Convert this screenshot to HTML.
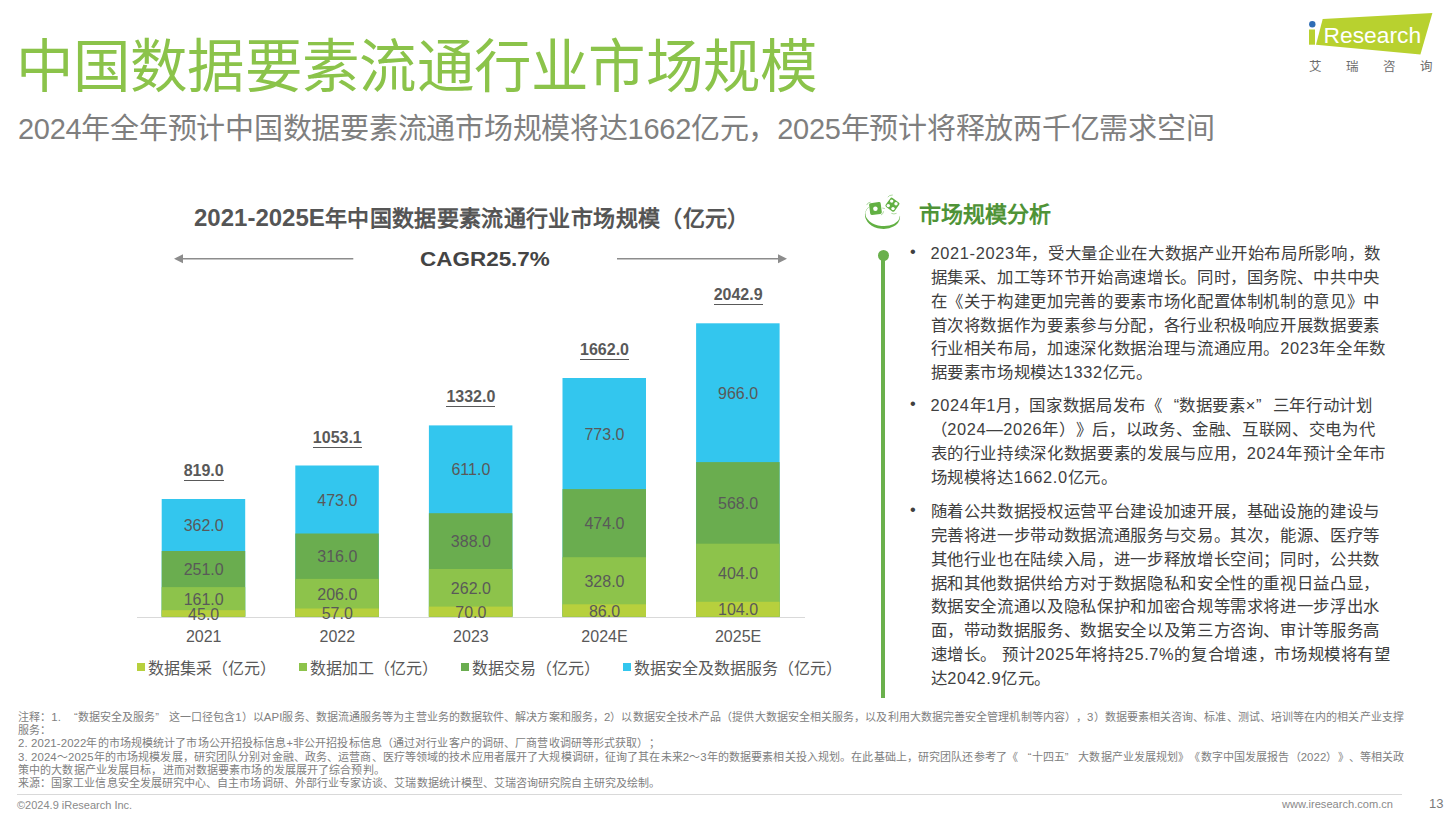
<!DOCTYPE html>
<html lang="zh-CN"><head><meta charset="utf-8">
<style>
*{margin:0;padding:0;box-sizing:border-box}
html,body{width:1448px;height:818px;overflow:hidden;background:#fff}
body{position:relative;font-family:"Liberation Sans",sans-serif;color:#404040;text-spacing-trim:space-all}
.a{position:absolute;white-space:nowrap;line-height:1}
#title{left:15.5px;top:38.5px;font-size:57.5px;letter-spacing:0.3px;color:#8bc34a}
#sub{left:18px;top:114.5px;font-size:29px;color:#7f7f7f;letter-spacing:-0.26px}
/* logo */
#logo{position:absolute;left:1300px;top:8px;width:140px;height:70px}
.lg-cn{position:absolute;top:53px;font-size:12.5px;color:#6d6d6d;line-height:1}
/* chart */
#ctitle{left:194px;top:205.5px;font-size:22px;font-weight:bold;color:#555;letter-spacing:0.37px}
#ctitle b{font-size:24px;letter-spacing:0}
#cagr{left:420px;top:250px;font-size:19.3px;font-weight:bold;color:#444;transform:scaleX(1.165);transform-origin:0 0}
.bar{position:absolute;width:84px}
.seg{position:absolute;left:0;width:84px}
.c1{background:#b7d03d}.c2{background:#8dc34b}.c3{background:#6aad4f}.c4{background:#33c6ee}
.vl{position:absolute;width:84px;text-align:center;font-size:16px;line-height:16px;color:#595959;white-space:nowrap}
.tot{position:absolute;width:84px;text-align:center;font-size:16px;font-weight:bold;line-height:16px;color:#595959}
.tot span{border-bottom:1px solid #595959;padding-bottom:1px}
.yr{position:absolute;width:84px;text-align:center;font-size:16px;line-height:16px;color:#595959;top:629px}
#axis{display:none}
.lgd{position:absolute;top:660.5px;font-size:16px;line-height:16px;color:#595959;white-space:nowrap}
.lgd i{display:inline-block;width:8px;height:8px;margin-right:3px;vertical-align:3px;margin-left:-2px}
/* right panel */
#rtitle{left:919px;top:204px;font-size:22px;font-weight:bold;color:#4f9337}
#vline{position:absolute;left:881px;top:255px;width:3.5px;height:442.5px;background:#6ab04c}
#vdot{position:absolute;left:878px;top:250px;width:11px;height:11px;border-radius:50%;background:#6ab04c}
.para{position:absolute;left:930.5px;width:470px;font-size:16.4px;letter-spacing:0.65px;line-height:23.86px;color:#404040}
.para p{white-space:nowrap}
.ql,.qr{display:inline-block;width:16.65px;text-align:right;letter-spacing:0}
.qr{text-align:left}
.bul{position:absolute;left:-20.5px;top:-2px}
/* footer */
.fn{position:absolute;left:18px;font-size:11px;line-height:13.3px;color:#808080;white-space:nowrap}
.fn .n{font-size:11.4px}
.fn .ql,.fn .qr{width:13.5px}
#hr{position:absolute;left:17px;top:794px;width:1385px;height:1px;background:#d9d9d9}
#copy{left:17px;top:799.5px;font-size:11px;color:#8a8a8a}
#www{left:1282px;top:799px;font-size:11.1px;color:#8a8a8a}
#pg{left:1429px;top:797px;font-size:13px;color:#7a7a7a}
</style></head>
<body>
<div class="a" id="title">中国数据要素流通行业市场规模</div>
<div class="a" id="sub">2024年全年预计中国数据要素流通市场规模将达1662亿元，2025年预计将释放两千亿需求空间</div>

<div id="logo">
<svg width="140" height="70" viewBox="1300 8 140 70" style="position:absolute;left:0;top:0">
  <polygon points="1322.7,19 1432.4,12.9 1420.4,54.6 1316,44.7" fill="#b8d12f"/>
  <rect x="1309" y="29.5" width="6" height="15.2" fill="#b8d12f"/>
  <circle cx="1312.3" cy="24.2" r="3.2" fill="#2f6db5"/>
  <text x="1323.5" y="42.5" font-family="Liberation Sans" font-size="22.8" fill="#fff">Research</text>
</svg>
<div class="lg-cn" style="left:9px">艾</div>
<div class="lg-cn" style="left:46px">瑞</div>
<div class="lg-cn" style="left:83px">咨</div>
<div class="lg-cn" style="left:120px">询</div>
</div>

<div class="a" id="ctitle"><b>2021-2025E</b>年中国数据要素流通行业市场规模（亿元）</div>
<svg style="position:absolute;left:0;top:0" width="1448" height="818">
  <line x1="182" y1="258.7" x2="353.3" y2="258.7" stroke="#8c8c8c" stroke-width="1.6"/>
  <polygon points="174,258.7 183,254.2 183,263.2" fill="#8c8c8c"/>
  <line x1="617" y1="258.7" x2="778" y2="258.7" stroke="#8c8c8c" stroke-width="1.6"/>
  <polygon points="787,258.7 778,254.2 778,263.2" fill="#8c8c8c"/>
</svg>
<div class="a" id="cagr">CAGR25.7%</div>

<div id="bars">
<svg style="position:absolute;left:0;top:0" width="1448" height="818"><rect x="161.7" y="499.0" width="83.5" height="117.7" fill="#33c6ee"/><rect x="161.7" y="551.0" width="83.5" height="65.7" fill="#6aad4f"/><rect x="161.7" y="587.1" width="83.5" height="29.6" fill="#8dc34b"/><rect x="161.7" y="610.2" width="83.5" height="6.5" fill="#b7d03d"/><rect x="295.3" y="465.5" width="83.5" height="151.2" fill="#33c6ee"/><rect x="295.3" y="533.5" width="83.5" height="83.2" fill="#6aad4f"/><rect x="295.3" y="578.9" width="83.5" height="37.8" fill="#8dc34b"/><rect x="295.3" y="608.5" width="83.5" height="8.2" fill="#b7d03d"/><rect x="428.9" y="425.4" width="83.5" height="191.3" fill="#33c6ee"/><rect x="428.9" y="513.2" width="83.5" height="103.5" fill="#6aad4f"/><rect x="428.9" y="569.0" width="83.5" height="47.7" fill="#8dc34b"/><rect x="428.9" y="606.6" width="83.5" height="10.1" fill="#b7d03d"/><rect x="562.5" y="378.0" width="83.5" height="238.7" fill="#33c6ee"/><rect x="562.5" y="489.1" width="83.5" height="127.6" fill="#6aad4f"/><rect x="562.5" y="557.2" width="83.5" height="59.5" fill="#8dc34b"/><rect x="562.5" y="604.3" width="83.5" height="12.4" fill="#b7d03d"/><rect x="696.1" y="323.3" width="83.5" height="293.4" fill="#33c6ee"/><rect x="696.1" y="462.1" width="83.5" height="154.6" fill="#6aad4f"/><rect x="696.1" y="543.7" width="83.5" height="73.0" fill="#8dc34b"/><rect x="696.1" y="601.8" width="83.5" height="14.9" fill="#b7d03d"/><rect x="137" y="617" width="668" height="1" fill="#d9d9d9"/></svg>
<div class="vl" style="left:161.7px;top:606.5px">45.0</div>
<div class="vl" style="left:161.7px;top:591.7px">161.0</div>
<div class="vl" style="left:161.7px;top:562.1px">251.0</div>
<div class="vl" style="left:161.7px;top:518.0px">362.0</div>
<div class="tot" style="left:161.7px;top:463.0px"><span>819.0</span></div>
<div class="yr" style="left:161.7px">2021</div>
<div class="vl" style="left:295.3px;top:605.6px">57.0</div>
<div class="vl" style="left:295.3px;top:586.7px">206.0</div>
<div class="vl" style="left:295.3px;top:549.2px">316.0</div>
<div class="vl" style="left:295.3px;top:492.5px">473.0</div>
<div class="tot" style="left:295.3px;top:429.5px"><span>1053.1</span></div>
<div class="yr" style="left:295.3px">2022</div>
<div class="vl" style="left:428.9px;top:604.7px">70.0</div>
<div class="vl" style="left:428.9px;top:580.8px">262.0</div>
<div class="vl" style="left:428.9px;top:534.1px">388.0</div>
<div class="vl" style="left:428.9px;top:462.3px">611.0</div>
<div class="tot" style="left:428.9px;top:389.4px"><span>1332.0</span></div>
<div class="yr" style="left:428.9px">2023</div>
<div class="vl" style="left:562.5px;top:603.5px">86.0</div>
<div class="vl" style="left:562.5px;top:573.8px">328.0</div>
<div class="vl" style="left:562.5px;top:516.2px">474.0</div>
<div class="vl" style="left:562.5px;top:426.6px">773.0</div>
<div class="tot" style="left:562.5px;top:342.0px"><span>1662.0</span></div>
<div class="yr" style="left:562.5px">2024E</div>
<div class="vl" style="left:696.1px;top:602.2px">104.0</div>
<div class="vl" style="left:696.1px;top:565.7px">404.0</div>
<div class="vl" style="left:696.1px;top:495.9px">568.0</div>
<div class="vl" style="left:696.1px;top:385.7px">966.0</div>
<div class="tot" style="left:696.1px;top:287.3px"><span>2042.9</span></div>
<div class="yr" style="left:696.1px">2025E</div>
</div>
<div id="axis"></div>

<div class="lgd" style="left:139px"><i class="c1"></i>数据集采（亿元）</div>
<div class="lgd" style="left:301px"><i class="c2"></i>数据加工（亿元）</div>
<div class="lgd" style="left:463px"><i class="c3"></i>数据交易（亿元）</div>
<div class="lgd" style="left:625px"><i class="c4"></i>数据安全及数据服务（亿元）</div>

<!-- right panel -->
<svg style="position:absolute;left:855px;top:190px" width="80" height="80" viewBox="0 0 80 80">
<defs><clipPath id="bowlclip"><path d="M0,16.5 L11.8,18.6 L42.1,23.6 L80,30 L80,80 L0,80 Z"/></clipPath></defs>
<g fill="#62b043" stroke="none">
 <path clip-path="url(#bowlclip)" fill-rule="evenodd" transform="rotate(6 27.5 25.8)" d="M9.9,25.8 A17.6,13 0 1 0 45.1,25.8 A17.6,13 0 1 0 9.9,25.8 Z M10.3,24.8 A17.2,11.2 0 1 0 44.7,24.8 A17.2,11.2 0 1 0 10.3,24.8 Z"/>
 <rect x="14.6" y="12.6" width="11.7" height="12" rx="1.7" transform="rotate(-7.4 20.45 18.6)"/>
 <rect x="31.95" y="9.2" width="11" height="11" rx="1.7" transform="rotate(36 37.45 14.7)"/>
</g>
<g fill="#fff">
 <circle cx="20.4" cy="18.8" r="2.25"/>
 <circle cx="36.7" cy="11.1" r="1.7"/><circle cx="41" cy="13.8" r="1.7"/><circle cx="33.3" cy="15.6" r="1.7"/><circle cx="38" cy="18.6" r="1.7"/>
</g>
<g fill="none" stroke="#8cc878" stroke-width="0.7" stroke-linecap="round">
 <path d="M11.8,14.7 Q12.6,12.4 15.2,12.2"/>
 <path d="M27.6,18.1 L29.4,18.5"/>
 <path d="M28.5,21.7 Q28.4,24 26.3,24.9"/>
 <path d="M33,6.8 Q34,5 37.4,5"/>
 <path d="M36.7,23.5 Q38.9,24.6 41.2,23.5"/>
</g>
</svg>
<div class="a" id="rtitle">市场规模分析</div>
<div id="vline"></div><div id="vdot"></div>

<div class="para" style="top:242px">
<span class="bul">•</span>
<p>2021-2023年，受大量企业在大数据产业开始布局所影响，数</p>
<p>据集采、加工等环节开始高速增长。同时，国务院、中共中央</p>
<p>在《关于构建更加完善的要素市场化配置体制机制的意见》中</p>
<p>首次将数据作为要素参与分配，各行业积极响应开展数据要素</p>
<p>行业相关布局，加速深化数据治理与流通应用。2023年全年数</p>
<p>据要素市场规模达1332亿元。</p>
</div>
<div class="para" style="top:394px">
<span class="bul">•</span>
<p>2024年1月，国家数据局发布《<span class="ql">“</span>数据要素×<span class="qr">”</span>三年行动计划</p>
<p>（2024—2026年）》后，以政务、金融、互联网、交电为代</p>
<p>表的行业持续深化数据要素的发展与应用，2024年预计全年市</p>
<p>场规模将达1662.0亿元。</p>
</div>
<div class="para" style="top:500px">
<span class="bul">•</span>
<p>随着公共数据授权运营平台建设加速开展，基础设施的建设与</p>
<p>完善将进一步带动数据流通服务与交易。其次，能源、医疗等</p>
<p>其他行业也在陆续入局，进一步释放增长空间；同时，公共数</p>
<p>据和其他数据供给方对于数据隐私和安全性的重视日益凸显，</p>
<p>数据安全流通以及隐私保护和加密合规等需求将进一步浮出水</p>
<p>面，带动数据服务、数据安全以及第三方咨询、审计等服务高</p>
<p>速增长。 预计2025年将持25.7%的复合增速，市场规模将有望</p>
<p>达2042.9亿元。</p>
</div>

<!-- footnotes -->
<div class="fn" style="top:711px;letter-spacing:0.086px">注释：<span class="n">1.</span> <span class="ql">“</span>数据安全及服务<span class="qr">”</span>这一口径包含<span class="n">1</span>）以<span class="n">API</span>服务、数据流通服务等为主营业务的数据软件、解决方案和服务，<span class="n">2</span>）以数据安全技术产品（提供大数据安全相关服务，以及利用大数据完善安全管理机制等内容），<span class="n">3</span>）数据要素相关咨询、标准、测试、培训等在内的相关产业支撑</div>
<div class="fn" style="top:724px">服务：</div>
<div class="fn" style="top:737px;letter-spacing:0.111px"><span class="n">2. 2021-2022</span>年的市场规模统计了市场公开招投标信息+非公开招投标信息（通过对行业客户的调研、厂商营收调研等形式获取）；</div>
<div class="fn" style="top:751px;letter-spacing:0.114px"><span class="n">3. 2024</span>～<span class="n">2025</span>年的市场规模发展，研究团队分别对金融、政务、运营商、医疗等领域的技术应用者展开了大规模调研，征询了其在未来<span class="n">2</span>～<span class="n">3</span>年的数据要素相关投入规划。在此基础上，研究团队还参考了《<span class="ql">“</span>十四五<span class="qr">”</span>大数据产业发展规划》《数字中国发展报告（<span class="n">2022</span>）》、等相关政</div>
<div class="fn" style="top:764px;letter-spacing:0.116px">策中的大数据产业发展目标，进而对数据要素市场的发展展开了综合预判。</div>
<div class="fn" style="top:777px;letter-spacing:0.070px">来源：国家工业信息安全发展研究中心、自主市场调研、外部行业专家访谈、艾瑞数据统计模型、艾瑞咨询研究院自主研究及绘制。</div>
<div id="hr"></div>
<div class="a" id="copy">©2024.9 iResearch Inc.</div>
<div class="a" id="www">www.iresearch.com.cn</div>
<div class="a" id="pg">13</div>

</body></html>
